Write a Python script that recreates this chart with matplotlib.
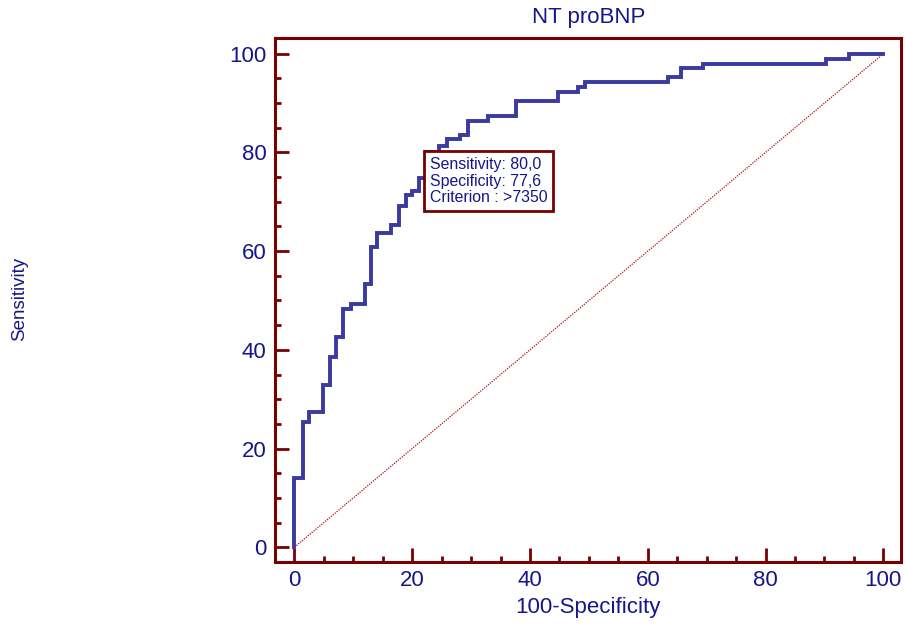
"""
ROC curve for NT proBNP, redrawn in matplotlib.
"""

import matplotlib.pyplot as plt

plt.rcParams["font.family"] = ["Liberation Sans", "DejaVu Sans"]

# ROC step corners (100-Specificity, Sensitivity)
fpr = [0, 0, 1.4, 2.5, 4.8, 6.0, 7.1, 8.2, 9.6, 11.9, 13.0, 14.0, 16.4, 17.8, 18.9, 19.9,
       21.2, 22.4, 24.5, 25.9, 28.1, 29.4, 32.9, 37.7, 44.7, 48.2, 49.3, 63.4, 65.7, 69.4,
       90.3, 94.1, 100]
tpr = [0, 14.0, 25.4, 27.3, 32.9, 38.6, 42.5, 48.3, 49.2, 53.3, 60.8, 63.6, 65.4, 69.1, 71.3,
       72.2, 74.9, 80.0, 81.4, 82.8, 83.6, 86.4, 87.4, 90.4, 92.3, 93.2, 94.3, 95.2, 97.1,
       98.0, 98.9, 100, 100]

# optimal criterion point
crit_x = 22.4
crit_y = 80.0
crit_lines = ["Sensitivity: 80,0", "Specificity: 77,6", "Criterion : >7350"]

title = "NT proBNP"
xlabel = "100-Specificity"
ylabel = "Sensitivity"

frame_col = "#780000"
text_col = "#16168a"
curve_col = "#3a3aa0"

fig = plt.figure(figsize=(9.05, 6.26), dpi=100)
ax = fig.add_axes([275 / 905, 1 - 562 / 626, 626 / 905, 524 / 626])

# reference diagonal
ax.plot([0, 100], [0, 100], color="#b01010", lw=0.9, ls=(0, (1, 1)), zorder=2)

# ROC curve
ax.plot(fpr, tpr, drawstyle="steps-post", color=curve_col, lw=2.8, zorder=3,
        solid_joinstyle="miter")

ax.annotate("\n".join(crit_lines), xy=(crit_x, crit_y), xycoords="data",
            xytext=(2.5, -3.5), textcoords="offset points", ha="left", va="top",
            fontsize=11.4, color=text_col, linespacing=1.1, zorder=5,
            bbox=dict(boxstyle="square,pad=0.38", fc="white", ec=frame_col, lw=2))

ax.set_xlim(-3.3, 103.0)
ax.set_ylim(-3.0, 103.2)
ax.set_xticks(range(0, 101, 20))
ax.set_yticks(range(0, 101, 20))
ax.set_xticks(range(0, 101, 5), minor=True)
ax.set_yticks(range(0, 101, 5), minor=True)

for sp in ax.spines.values():
    sp.set_color(frame_col)
    sp.set_linewidth(2.2)

ax.tick_params(which="major", direction="in", length=10, width=2, color=frame_col,
               labelcolor=text_col, labelsize=16, pad=6)
ax.tick_params(which="minor", direction="in", length=4.5, width=2, color=frame_col)

fig.text(589 / 905, 1 - 18 / 626, title, ha="center", va="center", fontsize=16, color=text_col)
fig.text(588 / 905, 1 - 608 / 626, xlabel, ha="center", va="center", fontsize=16, color=text_col)
fig.text(20 / 905, 1 - 299 / 626, ylabel, ha="center", va="center", rotation=90,
         fontsize=13.5, color=text_col)

fig.savefig("out.png", dpi=100)
